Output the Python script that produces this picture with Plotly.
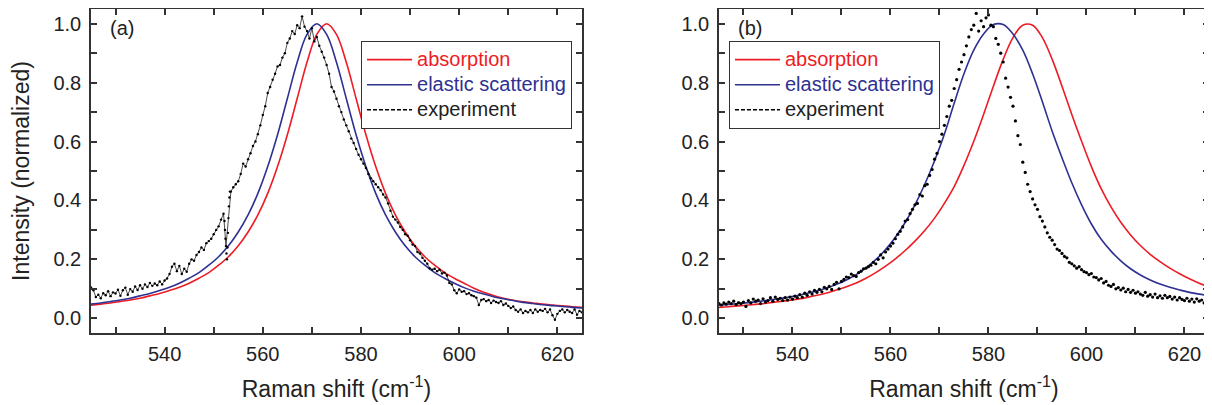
import plotly.graph_objects as go

# fitted curves are sampled every 2 cm-1
fit_x = [525 + 2 * i for i in range(51)]

# panel (a)
abs_a = [0.044, 0.048, 0.052, 0.057, 0.062, 0.068, 0.076, 0.084, 0.094, 0.105,
         0.119, 0.136, 0.155, 0.180, 0.209, 0.246, 0.293, 0.351, 0.424, 0.515,
         0.623, 0.746, 0.869, 0.964, 1.000, 0.964, 0.869, 0.746, 0.623, 0.515,
         0.424, 0.351, 0.293, 0.246, 0.209, 0.180, 0.155, 0.136, 0.119, 0.102,
         0.088, 0.077, 0.068, 0.061, 0.056, 0.052, 0.048, 0.045, 0.042, 0.039, 0.037]
ela_a = [0.048, 0.052, 0.057, 0.062, 0.068, 0.076, 0.084, 0.094, 0.105, 0.119,
         0.136, 0.155, 0.180, 0.209, 0.246, 0.293, 0.351, 0.424, 0.515, 0.623,
         0.746, 0.869, 0.964, 1.000, 0.964, 0.869, 0.746, 0.623, 0.515, 0.424,
         0.351, 0.293, 0.246, 0.209, 0.180, 0.155, 0.136, 0.119, 0.104, 0.092,
         0.082, 0.073, 0.066, 0.060, 0.054, 0.050, 0.046, 0.043, 0.040, 0.037, 0.035]

# panel (b)
abs_b = [0.037, 0.039, 0.042, 0.045, 0.048, 0.052, 0.056, 0.060, 0.065, 0.071,
         0.078, 0.086, 0.096, 0.107, 0.120, 0.136, 0.155, 0.177, 0.202, 0.230,
         0.262, 0.298, 0.340, 0.390, 0.447, 0.519, 0.601, 0.692, 0.788, 0.879,
         0.953, 0.995, 0.995, 0.953, 0.879, 0.788, 0.692, 0.601, 0.515, 0.440,
         0.378, 0.326, 0.283, 0.247, 0.217, 0.192, 0.170, 0.151, 0.134, 0.119, 0.106]
ela_b = [0.044, 0.047, 0.050, 0.053, 0.057, 0.061, 0.066, 0.071, 0.077, 0.085,
         0.093, 0.103, 0.115, 0.130, 0.148, 0.171, 0.199, 0.233, 0.275, 0.325,
         0.385, 0.455, 0.535, 0.625, 0.730, 0.830, 0.910, 0.965, 0.997, 0.997,
         0.965, 0.910, 0.830, 0.735, 0.635, 0.545, 0.460, 0.385, 0.320, 0.268,
         0.228, 0.195, 0.168, 0.147, 0.130, 0.116, 0.105, 0.096, 0.088, 0.082, 0.077]

# measured spectra, every 0.5 cm-1
exp_x = [525 + 0.5 * i for i in range(201)]
exp_a = [0.105, 0.095, 0.072, 0.080, 0.068, 0.085, 0.078, 0.092, 0.075, 0.088,
         0.084, 0.097, 0.076, 0.095, 0.104, 0.080, 0.099, 0.090, 0.108, 0.096,
         0.112, 0.100, 0.115, 0.106, 0.120, 0.110, 0.118, 0.112, 0.125, 0.115,
         0.128, 0.135, 0.150, 0.175, 0.185, 0.160, 0.178, 0.150, 0.168, 0.158,
         0.185, 0.200, 0.195, 0.215, 0.225, 0.240, 0.232, 0.255, 0.262, 0.270,
         0.285, 0.300, 0.312, 0.335, 0.355, 0.245, 0.340, 0.430, 0.445, 0.455,
         0.465, 0.490, 0.525, 0.515, 0.540, 0.560, 0.585, 0.600, 0.625, 0.655,
         0.690, 0.720, 0.765, 0.785, 0.810, 0.830, 0.855, 0.860, 0.885, 0.900,
         0.935, 0.950, 0.975, 0.965, 0.995, 0.985, 1.025, 0.990, 0.975, 0.950,
         0.985, 0.940, 0.955, 0.925, 0.905, 0.885, 0.860, 0.830, 0.785, 0.770,
         0.745, 0.720, 0.700, 0.675, 0.655, 0.635, 0.610, 0.595, 0.575, 0.555,
         0.540, 0.525, 0.510, 0.490, 0.475, 0.465, 0.455, 0.445, 0.435, 0.420,
         0.410, 0.390, 0.365, 0.345, 0.335, 0.325, 0.310, 0.300, 0.285, 0.280,
         0.265, 0.250, 0.245, 0.225, 0.220, 0.205, 0.195, 0.185, 0.170, 0.165,
         0.168, 0.160, 0.165, 0.152, 0.155, 0.145, 0.120, 0.115, 0.095, 0.085,
         0.098, 0.090, 0.092, 0.082, 0.085, 0.078, 0.075, 0.070, 0.045, 0.062,
         0.065, 0.058, 0.062, 0.052, 0.060, 0.055, 0.052, 0.058, 0.045, 0.050,
         0.042, 0.035, 0.040, 0.028, 0.022, 0.030, 0.018, 0.025, 0.020, 0.028,
         0.018, 0.030, 0.022, 0.028, 0.025, 0.032, 0.020, 0.030, 0.010, -0.005,
         0.015, 0.025, 0.030, 0.020, 0.028, 0.022, 0.018, 0.030, 0.012, 0.025,
         0.020]
# the drop/jump near 553 cm-1 in (a)
glitch_x = [552.2, 552.3, 552.4, 552.6, 552.7, 552.8, 552.9, 553.1, 553.2, 553.3]
glitch_y = [0.330, 0.300, 0.270, 0.220, 0.200, 0.240, 0.290, 0.380, 0.410, 0.430]

exp_b = [0.050, 0.045, 0.052, 0.048, 0.055, 0.050, 0.058, 0.047, 0.053, 0.050,
         0.055, 0.040, 0.060, 0.052, 0.065, 0.058, 0.062, 0.050, 0.066, 0.055,
         0.060, 0.070, 0.058, 0.072, 0.064, 0.068, 0.060, 0.070, 0.062, 0.072,
         0.065, 0.075, 0.070, 0.080, 0.072, 0.085, 0.078, 0.090, 0.082, 0.095,
         0.088, 0.098, 0.090, 0.105, 0.100, 0.108, 0.098, 0.115, 0.122, 0.100,
         0.125, 0.132, 0.140, 0.138, 0.150, 0.145, 0.142, 0.155, 0.160, 0.168,
         0.170, 0.175, 0.180, 0.190, 0.185, 0.200, 0.215, 0.205, 0.225, 0.235,
         0.245, 0.255, 0.270, 0.285, 0.295, 0.310, 0.330, 0.335, 0.355, 0.370,
         0.385, 0.390, 0.420, 0.415, 0.450, 0.455, 0.485, 0.505, 0.540, 0.560,
         0.600, 0.625, 0.655, 0.685, 0.720, 0.740, 0.780, 0.810, 0.845, 0.870,
         0.895, 0.925, 0.955, 0.980, 0.995, 1.035, 0.975, 1.010, 0.990, 1.020,
         1.030, 0.995, 0.990, 0.950, 0.930, 0.900, 0.870, 0.815, 0.785, 0.750,
         0.720, 0.670, 0.620, 0.590, 0.530, 0.495, 0.455, 0.430, 0.405, 0.385,
         0.370, 0.345, 0.330, 0.310, 0.290, 0.275, 0.265, 0.250, 0.235, 0.230,
         0.220, 0.210, 0.205, 0.190, 0.185, 0.178, 0.170, 0.175, 0.165, 0.158,
         0.155, 0.148, 0.152, 0.140, 0.138, 0.130, 0.135, 0.120, 0.125, 0.112,
         0.108, 0.115, 0.100, 0.104, 0.096, 0.102, 0.090, 0.098, 0.088, 0.095,
         0.085, 0.090, 0.082, 0.078, 0.088, 0.075, 0.080, 0.072, 0.082, 0.070,
         0.076, 0.068, 0.078, 0.070, 0.074, 0.065, 0.072, 0.062, 0.070, 0.064,
         0.060, 0.068, 0.058, 0.065, 0.055, 0.066, 0.058, 0.062, 0.052, 0.060,
         0.058]

x_labelled = [540, 560, 580, 600, 620]
x_minor = [530, 540, 550, 560, 570, 580, 590, 600, 610, 620]
y_labelled = [0.0, 0.2, 0.4, 0.6, 0.8, 1.0]
y_minor = [0.0, 0.1, 0.2, 0.3, 0.4, 0.5, 0.6, 0.7, 0.8, 0.9, 1.0]

RED = '#ed1c24'
BLUE = '#2e3192'
FONT = 'Liberation Sans, Arial, sans-serif'


def item(text, color='#222'):
    # bigger text than the legend font so the rows stay tight like the original
    return f'<span style="font-size:20px;color:{color}">{text}</span>'


fig = go.Figure()

for xa, ya, leg, absorption, elastic, exp in [('x', 'y', 'legend', abs_a, ela_a, exp_a),
                                               ('x2', 'y2', 'legend2', abs_b, ela_b, exp_b)]:
    fig.add_trace(go.Scatter(x=fit_x, y=absorption, mode='lines', line=dict(color=RED, width=1.6, shape='spline'),
                             name=item('absorption', RED), xaxis=xa, yaxis=ya, legend=leg))
    fig.add_trace(go.Scatter(x=fit_x, y=elastic, mode='lines', line=dict(color=BLUE, width=1.6, shape='spline'),
                             name=item('elastic scattering', BLUE), xaxis=xa, yaxis=ya, legend=leg))
    if xa == 'x':
        # (a) is dense enough to read as a jagged dotted line
        fig.add_trace(go.Scatter(x=exp_x, y=exp, mode='lines+markers', line=dict(color='black', width=0.7),
                                 marker=dict(color='black', size=2.4), showlegend=False, xaxis=xa, yaxis=ya))
        fig.add_trace(go.Scatter(x=glitch_x, y=glitch_y, mode='markers', marker=dict(color='black', size=2.4),
                                 showlegend=False, xaxis=xa, yaxis=ya))
    else:
        fig.add_trace(go.Scatter(x=exp_x, y=exp, mode='markers', marker=dict(color='black', size=3.2),
                                 showlegend=False, xaxis=xa, yaxis=ya))
    # legend entry only (dashed sample like the original)
    fig.add_trace(go.Scatter(x=[None], y=[None], mode='lines', line=dict(color='black', width=1.5, dash='4px,2px'),
                             name=item('experiment'), xaxis=xa, yaxis=ya, legend=leg))

tick_style = dict(ticks='inside', ticklen=6, tickwidth=1.5, tickcolor='#333')
axis_style = dict(showline=True, linecolor='#333', linewidth=1.5, mirror='ticks', showgrid=False, zeroline=False,
                  tickfont=dict(size=20, color='#222'), automargin=False, **tick_style)
x_style = dict(range=[525, 625], tickvals=x_labelled, ticklabelstandoff=2,
               minor=dict(tickvals=x_minor, **tick_style), **axis_style)
y_style = dict(range=[-0.05, 1.05], tickvals=y_labelled, tickformat='.1f', ticklabelstandoff=4,
               minor=dict(tickvals=y_minor, **tick_style), **axis_style)

xtitle = dict(text='Raman shift (cm<sup>-1</sup>)', font=dict(size=23, color='#222'), standoff=17)
legend_style = dict(y=0.9168, xanchor='left', yanchor='top', bgcolor='white', bordercolor='#333',
                    borderwidth=1, font=dict(size=17, color='#222'), tracegroupgap=0, itemwidth=45)

# page body adds an 8 px offset, so the figure is 8 px smaller than the window
fig.update_layout(
    width=1204, height=397,
    template='none',
    font=dict(family=FONT, color='#222'),
    paper_bgcolor='white', plot_bgcolor='white',
    margin=dict(l=0, r=0, t=0, b=0),
    xaxis=dict(domain=[0.0689, 0.4767], anchor='y', title=xtitle, **x_style),
    yaxis=dict(domain=[0.1814, 0.9975], anchor='x',
               title=dict(text='Intensity (normalized)', font=dict(size=23, color='#222'), standoff=18), **y_style),
    xaxis2=dict(domain=[0.5905, 0.9975], anchor='y2', title=xtitle, **x_style),
    yaxis2=dict(domain=[0.1814, 0.9975], anchor='x2', **y_style),
    legend=dict(x=0.2932, **legend_style),
    legend2=dict(x=0.5988, **legend_style),
    showlegend=True,
    annotations=[
        dict(text='(a)', x=528.5, y=0.985, xref='x', yref='y', xanchor='left', yanchor='middle',
             showarrow=False, font=dict(size=20, color='#222')),
        dict(text='(b)', x=528.5, y=0.985, xref='x2', yref='y2', xanchor='left', yanchor='middle',
             showarrow=False, font=dict(size=20, color='#222')),
    ],
)

fig.write_html('out.html')
